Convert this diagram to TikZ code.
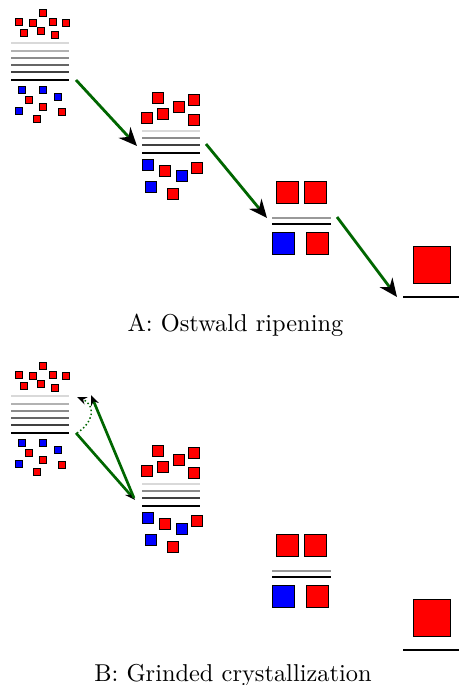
\documentclass[tikz,border=0pt]{standalone}
\usetikzlibrary{arrows.meta}
\newcommand{\Sq}[4]{\draw[#1] ({#2-#4/2},{#3-#4/2}) rectangle ++(#4,#4);}
\tikzset{
  rsq/.style={fill=red, draw=black, line width=0.4pt},
  bsq/.style={fill=blue, draw=black, line width=0.4pt},
  lev/.style={line width=0.55pt},
  bigarrow/.style={draw=green!40!black, line width=1.15pt, -{Stealth[black,length=7.5pt,width=6.5pt]}},
  smallarrow/.style={draw=green!40!black, line width=1.1pt, -{Stealth[black,length=4.2pt,width=3.3pt]}},
  dotarrow/.style={draw=green!40!black, line width=0.6pt, densely dotted, -{Stealth[black,length=4pt,width=3.2pt]}},
  caption/.style={anchor=base, inner sep=0pt}
}
\begin{document}
\begin{tikzpicture}[x=0.41pt, y=-0.41pt]
\useasboundingbox (0,0) rectangle (460,685);
\foreach \dy/\p in {0/A, 353/B}{
\begin{scope}[shift={(0,\dy)}]
  % cluster 1
  \draw[lev, black!15] (11,43) -- (69,43);
  \draw[lev, black!30] (11,51) -- (69,51);
  \draw[lev, black!45] (11,58) -- (69,58);
  \draw[lev, black!60] (11,65) -- (69,65);
  \draw[lev, black!75] (11,72) -- (69,72);
  \draw[lev, black]    (11,80) -- (69,80);
  \Sq{rsq}{43}{13}{7} \Sq{rsq}{19}{22}{7} \Sq{rsq}{33}{23}{7} \Sq{rsq}{53}{22}{7}
  \Sq{rsq}{66}{23}{7} \Sq{rsq}{24}{33}{7} \Sq{rsq}{41}{31}{7} \Sq{rsq}{55}{35}{7}
  \Sq{bsq}{22}{90}{7} \Sq{bsq}{43}{90}{7} \Sq{bsq}{58}{97}{7} \Sq{bsq}{19}{111}{7}
  \Sq{rsq}{29}{100}{7} \Sq{rsq}{43}{107}{7} \Sq{rsq}{62}{112}{7} \Sq{rsq}{37}{119}{7}
  % cluster 2
  \draw[lev, black!15] (142,131) -- (200,131);
  \draw[lev, black!45] (142,138) -- (200,138);
  \draw[lev, black!75] (142,145) -- (200,145);
  \draw[lev, black]    (142,153) -- (200,153);
  \Sq{rsq}{158}{98}{11} \Sq{rsq}{194}{100}{11} \Sq{rsq}{179}{107}{11}
  \Sq{rsq}{163}{114}{11} \Sq{rsq}{147}{118}{11} \Sq{rsq}{194}{120}{11}
  \Sq{bsq}{148}{165}{11} \Sq{rsq}{165}{171}{11} \Sq{bsq}{182}{176}{11}
  \Sq{rsq}{197}{168}{11} \Sq{bsq}{151}{187}{11} \Sq{rsq}{173}{194}{11}
  % cluster 3
  \draw[lev, black!40] (272,218) -- (331,218);
  \draw[lev, black]    (272,224) -- (331,224);
  \Sq{rsq}{287}{192}{22} \Sq{rsq}{315}{192}{22}
  \Sq{bsq}{283}{243}{22} \Sq{rsq}{317}{243}{22}
  % cluster 4
  \draw[lev, black, line width=0.8pt] (403,297) -- (459,297);
  \Sq{rsq}{431.5}{265}{37}
\end{scope}
}
% arrow end points
\coordinate (a1s) at (76,80);   \coordinate (a1e) at (137,146);
\coordinate (a2s) at (206,144); \coordinate (a2e) at (267,218);
\coordinate (a3s) at (337,217); \coordinate (a3e) at (397,297);
\coordinate (b1s) at (76,433);  \coordinate (b1e) at (135,500);
\coordinate (b2s) at (134,498); \coordinate (b2e) at (91,395);
\coordinate (b3s) at (77,433);  \coordinate (b3e) at (77,397);
\draw[bigarrow] (a1s) -- (a1e);
\draw[bigarrow] (a2s) -- (a2e);
\draw[bigarrow] (a3s) -- (a3e);
\draw[smallarrow] (b1s) -- (b1e);
\draw[smallarrow] (b2s) -- (b2e);
\draw[dotarrow] (b3s) .. controls (94,422) and (96,405) .. (b3e);
\node[caption] (capA) at (235.5,332) {A: Ostwald ripening};
\node[caption] (capB) at (233,681) {B: Grinded crystallization};
\end{tikzpicture}
\end{document}
